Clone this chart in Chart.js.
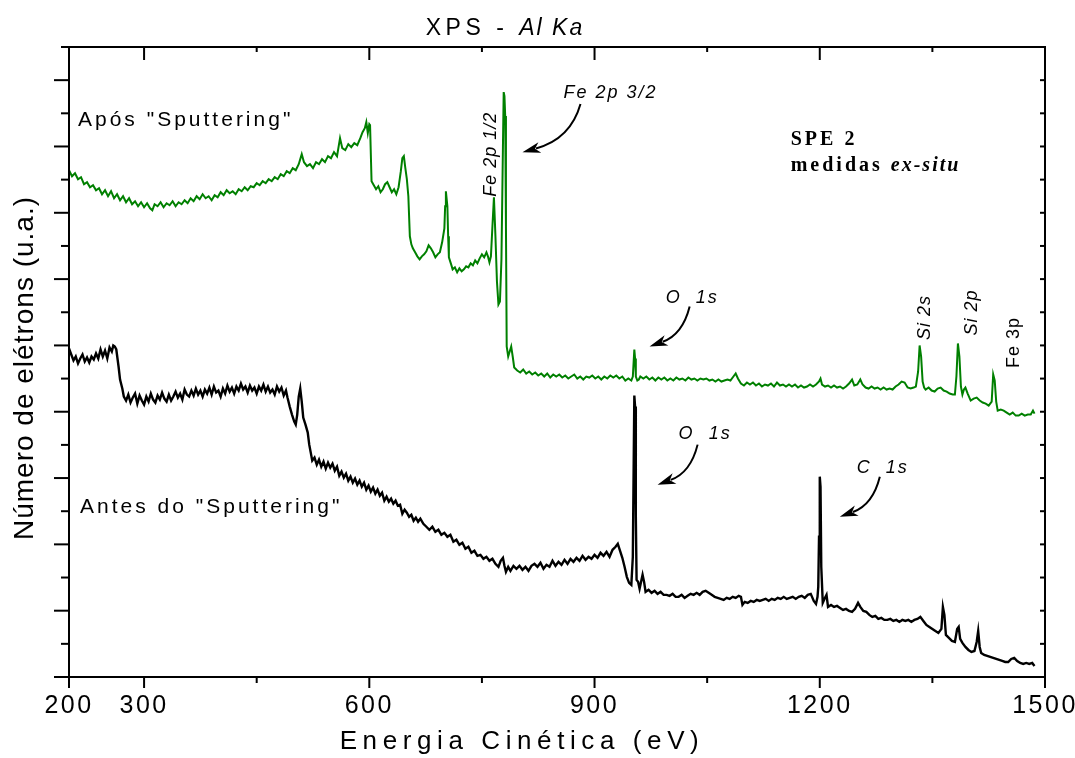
<!DOCTYPE html>
<html lang="pt">
<head>
<meta charset="utf-8">
<title>XPS - Al Ka</title>
<script src="https://cdn.jsdelivr.net/npm/chart.js@4/dist/chart.umd.min.js"></script>
<style>
  html, body { margin: 0; background: #fff; }
  canvas { display: block; }
</style>
</head>
<body>
<canvas id="espectro" width="1075" height="758"></canvas>
<script>
// espectro após o sputtering: [energia cinética (eV), intensidade (u.a.)]
const aposSputtering = [
  [200,506],[204,500],[208,503],[212,497],[216,499],[220,492],[224,494],[228,489],[232,491],[236,486],
  [240,488],[244,482],[248,486],[252,480],[256,485],[260,478],[264,482],[268,476],[272,480],[276,474],
  [280,478],[284,472],[288,475],[292,470],[296,474],[300,469],[304,473],[308,468],[311,466],[314,472],
  [318,470],[322,474],[326,469],[330,473],[334,471],[338,475],[342,470],[346,474],[350,472],[354,476],
  [358,473],[362,478],[366,475],[370,480],[374,477],[378,482],[382,478],[386,480],[390,476],[394,481],
  [398,479],[402,484],[406,481],[410,486],[414,483],[418,485],[422,482],[426,487],[430,485],[434,489],
  [438,486],[442,490],[446,489],[450,493],[454,491],[458,495],[462,493],[466,497],[470,495],[474,499],
  [478,497],[482,502],[486,500],[490,505],[494,503],[498,508],[502,506],[506,512],[510,522],[513,514],
  [517,510],[521,512],[525,508],[529,514],[533,512],[537,517],[541,514],[545,520],[549,518],[553,524],
  [557,520],[561,538],[564,528],[568,526],[572,532],[576,529],[580,533],[584,531],[588,538],[591,544],
  [594,548],[596,554],[598,543],[600,552],[601,551],[603,495],[606,491],[609,487],[612,490],[615,484],
  [618,487],[621,492],[624,494],[627,489],[630,484],[633,487],[636,482],[639,489],[642,505],[644,518],
  [646,520],[648,508],[650,497],[652,480],[654,440],[656,432],[658,428],[661,424],[664,420],[667,417],
  [670,420],[673,422],[676,425],[679,431],[682,428],[685,424],[688,419],[691,422],[694,424],[697,434],
  [700,448],[701,470],[702,485],[704,470],[705,440],[706,419],[709,412],[711,407],[714,409],[717,404],
  [720,408],[723,405],[726,407],[729,410],[732,409],[735,413],[738,411],[741,416],[744,413],[747,418],
  [750,422],[753,419],[756,424],[758,420],[760,414],[762,420],[764,450],[766,479],[768,440],[770,395],
  [772,372],[774,375],[776,417],[778,530],[779,584],[780,580],[781,560],[782,450],[783,330],[785,320],
  [787,325],[789,330],[791,320],[793,309],[797,306],[801,304],[805,307],[809,303],[813,305],[817,302],
  [821,304],[825,301],[829,303],[833,300],[837,303],[841,299],[845,302],[849,300],[853,302],[857,299],
  [861,301],[865,298],[869,300],[873,302],[877,298],[881,300],[885,297],[889,300],[893,299],[897,301],
  [901,298],[905,300],[909,297],[913,300],[917,298],[921,301],[925,299],[929,301],[933,298],[937,300],
  [941,296],[945,298],[949,296],[951,300],[953,327],[954,318],[955,300],[957,296],[959,297],[961,300],
  [965,298],[969,300],[973,297],[977,299],[981,296],[985,299],[989,297],[993,299],[997,296],[1001,298],
  [1005,296],[1009,299],[1013,297],[1017,298],[1021,296],[1025,299],[1029,297],[1033,298],[1037,296],
  [1041,298],[1045,297],[1049,298],[1053,296],[1057,297],[1061,295],[1065,297],[1069,295],[1073,296],
  [1077,297],[1081,296],[1085,300],[1088,303],[1091,298],[1095,293],[1099,291],[1103,294],[1107,292],
  [1111,294],[1115,291],[1119,293],[1123,290],[1127,292],[1131,291],[1135,293],[1139,290],[1143,294],
  [1147,291],[1151,292],[1155,290],[1159,292],[1163,290],[1167,292],[1171,289],[1175,291],[1179,289],
  [1183,290],[1187,292],[1191,290],[1195,292],[1199,295],[1201,298],[1203,292],[1207,290],[1211,291],
  [1215,289],[1219,291],[1223,289],[1227,290],[1231,288],[1235,290],[1239,293],[1243,297],[1246,291],
  [1250,292],[1254,297],[1257,292],[1261,289],[1265,288],[1269,290],[1273,288],[1277,289],[1281,287],
  [1285,289],[1289,287],[1293,288],[1297,287],[1301,290],[1305,292],[1309,295],[1313,294],[1317,289],
  [1321,288],[1325,289],[1328,290],[1331,305],[1333,331],[1335,320],[1337,295],[1339,289],[1341,287],
  [1345,289],[1349,286],[1353,285],[1357,288],[1361,289],[1365,286],[1369,285],[1373,283],[1377,282],
  [1380,282],[1382,300],[1384,333],[1386,320],[1388,290],[1390,282],[1392,287],[1394,289],[1397,283],
  [1401,276],[1405,278],[1409,279],[1413,276],[1417,274],[1421,273],[1425,271],[1429,275],[1431,302],
  [1433,296],[1435,275],[1437,266],[1441,267],[1445,266],[1449,264],[1453,262],[1457,264],[1461,261],
  [1465,261],[1469,263],[1473,261],[1477,262],[1481,262],[1484,266],[1486,263]
];

// espectro antes do sputtering
const antesSputtering = [
  [200,328],[203,322],[206,316],[209,320],[212,313],[215,318],[218,322],[221,315],[224,319],[227,314],
  [230,320],[233,317],[236,323],[239,318],[242,327],[245,320],[248,326],[251,318],[254,329],[257,325],
  [259,331],[261,330],[263,327],[266,310],[268,297],[271,288],[273,280],[276,276],[279,282],[282,274],
  [285,279],[288,283],[291,273],[294,281],[297,276],[300,272],[303,280],[306,275],[309,283],[312,277],
  [315,274],[318,281],[321,277],[324,284],[327,278],[330,275],[333,282],[336,276],[339,280],[342,285],
  [345,279],[348,283],[351,277],[354,287],[357,282],[360,280],[363,286],[366,281],[369,288],[372,282],
  [375,286],[378,280],[381,287],[384,283],[387,289],[390,282],[393,290],[396,284],[399,286],[402,280],
  [405,288],[408,283],[411,291],[414,285],[417,289],[420,283],[423,290],[426,286],[429,293],[432,287],
  [435,290],[438,284],[441,291],[444,286],[447,289],[450,283],[453,290],[456,286],[459,292],[462,285],
  [465,290],[468,284],[471,287],[474,282],[477,290],[480,285],[483,289],[486,281],[489,286],[491,279],
  [494,270],[497,262],[500,255],[502,252],[504,262],[506,280],[508,288],[510,275],[512,259],[515,252],
  [518,244],[520,232],[522,224],[524,216],[527,219],[530,212],[533,217],[536,210],[539,215],[542,208],
  [545,214],[548,209],[551,213],[554,206],[557,210],[560,201],[563,205],[566,199],[569,203],[572,196],
  [575,200],[578,194],[581,198],[584,192],[587,196],[590,190],[593,194],[596,187],[599,191],[602,185],
  [605,189],[608,183],[611,187],[614,181],[617,184],[620,176],[623,180],[626,175],[629,178],[632,173],
  [635,176],[638,171],[641,172],[644,163],[647,167],[650,164],[653,160],[656,162],[659,156],[662,159],
  [665,155],[668,158],[672,153],[676,150],[680,147],[684,150],[688,145],[692,147],[696,142],[700,144],
  [704,140],[708,142],[712,135],[716,137],[720,132],[724,134],[728,128],[732,130],[736,124],[740,126],
  [744,121],[748,122],[752,118],[756,120],[760,116],[764,118],[768,113],[772,110],[775,116],[778,119],
  [780,111],[782,105],[785,110],[788,106],[792,111],[796,108],[800,111],[804,107],[808,110],[812,106],
  [816,111],[820,113],[824,110],[828,114],[832,108],[836,112],[840,110],[844,116],[848,111],[852,115],
  [856,112],[860,117],[864,113],[868,118],[872,115],[876,119],[880,116],[884,121],[888,117],[892,120],
  [896,118],[900,122],[904,119],[908,124],[912,121],[916,125],[920,120],[924,127],[928,130],[931,133],
  [934,126],[937,119],[940,110],[943,100],[946,94],[949,92],[951,120],[953,281],[954,270],[955,160],
  [956,97],[958,95],[960,88],[962,95],[964,102],[966,95],[968,85],[972,87],[976,84],[980,86],
  [984,83],[988,85],[992,82],[996,82],[1000,81],[1004,83],[1008,80],[1012,80],[1016,82],[1020,79],
  [1024,81],[1028,83],[1032,82],[1036,84],[1040,82],[1044,85],[1048,86],[1052,84],[1056,82],[1060,80],
  [1064,79],[1068,78],[1072,77],[1076,79],[1080,78],[1084,80],[1088,79],[1092,81],[1095,80],[1097,72],
  [1100,75],[1104,74],[1108,76],[1112,75],[1116,77],[1120,76],[1124,77],[1128,78],[1132,76],[1136,78],
  [1140,77],[1144,79],[1148,78],[1152,80],[1156,78],[1160,79],[1164,80],[1168,78],[1172,80],[1176,81],
  [1180,79],[1184,82],[1188,83],[1192,76],[1195,73],[1197,80],[1198,90],[1199,140],[1200,200],[1201,190],
  [1202,110],[1204,74],[1207,79],[1209,82],[1211,70],[1215,72],[1219,70],[1223,71],[1227,69],[1231,67],
  [1235,68],[1239,66],[1243,65],[1247,68],[1251,74],[1254,70],[1258,66],[1262,65],[1266,62],[1270,60],
  [1274,61],[1278,58],[1282,59],[1286,57],[1290,57],[1294,58],[1298,56],[1302,57],[1306,55],[1310,57],
  [1314,56],[1318,57],[1322,55],[1326,57],[1330,58],[1334,60],[1338,56],[1342,52],[1346,50],[1350,48],
  [1354,46],[1358,44],[1362,48],[1364,70],[1366,62],[1368,42],[1372,39],[1376,36],[1380,35],[1383,48],
  [1385,50],[1387,38],[1390,34],[1394,30],[1398,27],[1402,25],[1406,26],[1409,35],[1411,46],[1413,30],
  [1415,24],[1419,22],[1423,21],[1427,20],[1431,19],[1435,18],[1439,17],[1443,16],[1447,15],[1451,15],
  [1455,18],[1459,19],[1463,16],[1467,14],[1471,13],[1475,14],[1479,13],[1483,14],[1486,11]
];

// eixo de energia: posições dos traços e quais levam número
const ticksEnergia = [200, 300, 450, 600, 750, 900, 1050, 1200, 1350, 1500];
const rotulosEnergia = [200, 300, 600, 900, 1200, 1500];
const intensidadeMax = 629;
const divisoesIntensidade = 19;

// identificação dos picos: [texto, energia, intensidade, estilo]
const picos = [
  ['Fe 2p 1/2', 762.7, 522, 'vertical-italico'],
  ['Si 2s', 1340, 359, 'vertical-italico'],
  ['Si 2p', 1402.7, 364, 'vertical-italico'],
  ['Fe 3p', 1458.7, 334, 'vertical']
];
// rótulos das setas: [texto, energia à esquerda, intensidade da linha de base]
const rotulosSeta = [
  ['Fe 2p 3/2', 858.7, 578],
  ['O  1s', 994.7, 373],
  ['O  1s', 1012, 238],
  ['C  1s', 1249.3, 204]
];
// setas: início, ponto de controle, ponta
const setas = [
  [[881.3, 572], [868, 537], [804, 524]],
  [[1026.7, 370], [1017.3, 342], [973.3, 330]],
  [[1037.3, 232], [1028, 204], [984, 192]],
  [[1280, 200], [1270.7, 172], [1226.7, 160]]
];

const SANS = '"Liberation Sans", Arial, sans-serif';
const SERIF = '"Liberation Serif", "Times New Roman", serif';

function linha(ctx, x1, y1, x2, y2) {
  ctx.beginPath();
  ctx.moveTo(x1, y1);
  ctx.lineTo(x2, y2);
  ctx.stroke();
}

function textoMisto(ctx, partes, x, y) {
  let cx = x;
  partes.forEach(([t, fonte, esp]) => {
    ctx.font = fonte;
    ctx.letterSpacing = esp + 'px';
    ctx.fillText(t, cx, y);
    cx += ctx.measureText(t).width;
  });
}

function larguraMista(ctx, partes) {
  let w = 0;
  partes.forEach(([t, fonte, esp]) => {
    ctx.font = fonte;
    ctx.letterSpacing = esp + 'px';
    w += ctx.measureText(t).width;
  });
  return w;
}

const molduraPlugin = {
  id: 'moldura',
  beforeDraw(chart) {
    chart.ctx.letterSpacing = '2.5px';
  },
  afterDraw(chart) {
    const { ctx, chartArea: a, scales: { x, y } } = chart;
    ctx.save();
    ctx.strokeStyle = '#000';
    ctx.fillStyle = '#000';
    ctx.lineWidth = 2;
    ctx.strokeRect(a.left, a.top, a.right - a.left, a.bottom - a.top);

    // traços do eixo de energia (embaixo para fora, em cima para dentro)
    ticksEnergia.forEach(v => {
      const px = x.getPixelForValue(v);
      const longo = rotulosEnergia.includes(v);
      linha(ctx, px, a.bottom, px, a.bottom + (longo ? 11 : 6));
      if (v > 200 && v < 1500) linha(ctx, px, a.top, px, a.top + (longo ? 13 : 5));
    });

    // traços de intensidade
    for (let k = 0; k <= divisoesIntensidade; k++) {
      const py = y.getPixelForValue(k * intensidadeMax / divisoesIntensidade);
      const longo = k % 2 === 0;
      linha(ctx, a.left - (longo ? 15 : 8), py, a.left, py);
      if (k > 0 && k < divisoesIntensidade) linha(ctx, a.right - 5, py, a.right, py);
    }

    // título
    const titulo = [
      ['XPS - ', '23px ' + SANS, 4.5],
      ['Al Ka', 'italic 23px ' + SANS, 2]
    ];
    ctx.textBaseline = 'alphabetic';
    ctx.textAlign = 'left';
    textoMisto(ctx, titulo, 505 - larguraMista(ctx, titulo) / 2, 35);

    // títulos dos eixos
    ctx.textAlign = 'center';
    ctx.textBaseline = 'middle';
    ctx.font = '26px ' + SANS;
    ctx.letterSpacing = '5.6px';
    ctx.fillText('Energia Cinética (eV)', 522, 742);
    ctx.save();
    ctx.translate(25, 368);
    ctx.rotate(-Math.PI / 2);
    ctx.font = '28px ' + SANS;
    ctx.letterSpacing = '1px';
    ctx.fillText('Número de elétrons (u.a.)', 0, 0);
    ctx.restore();

    // nomes das curvas
    ctx.textAlign = 'left';
    ctx.textBaseline = 'alphabetic';
    ctx.font = '21px ' + SANS;
    ctx.letterSpacing = '3px';
    ctx.fillText('Após "Sputtering"', x.getPixelForValue(212), y.getPixelForValue(550));
    ctx.fillText('Antes do "Sputtering"', x.getPixelForValue(214.7), y.getPixelForValue(164));

    // amostra
    textoMisto(ctx, [['SPE 2', 'bold 20px ' + SERIF, 3]], x.getPixelForValue(1161.3), y.getPixelForValue(531));
    textoMisto(ctx, [
      ['medidas ', 'bold 20px ' + SERIF, 3],
      ['ex-situ', 'bold italic 20px ' + SERIF, 2]
    ], x.getPixelForValue(1161.3), y.getPixelForValue(505));

    // picos com texto vertical
    picos.forEach(([t, ev, i, estilo]) => {
      ctx.save();
      ctx.translate(x.getPixelForValue(ev), y.getPixelForValue(i));
      ctx.rotate(-Math.PI / 2);
      ctx.textAlign = 'center';
      ctx.textBaseline = 'middle';
      ctx.font = (estilo === 'vertical-italico' ? 'italic ' : '') + '18px ' + SANS;
      ctx.letterSpacing = '1px';
      ctx.fillText(t, 0, 0);
      ctx.restore();
    });

    // picos indicados por seta
    ctx.font = 'italic 18px ' + SANS;
    ctx.letterSpacing = '2px';
    ctx.textAlign = 'left';
    rotulosSeta.forEach(([t, ev, i]) => {
      ctx.fillText(t, x.getPixelForValue(ev), y.getPixelForValue(i));
    });

    ctx.lineWidth = 2;
    setas.forEach(([ini, ctrl, fim]) => {
      const p0 = [x.getPixelForValue(ini[0]), y.getPixelForValue(ini[1])];
      const p1 = [x.getPixelForValue(ctrl[0]), y.getPixelForValue(ctrl[1])];
      const p2 = [x.getPixelForValue(fim[0]), y.getPixelForValue(fim[1])];
      const ang = Math.atan2(p2[1] - p1[1], p2[0] - p1[0]);
      const c = Math.cos(ang), s = Math.sin(ang);
      const L = 18, W = 5.5;
      const base = [p2[0] - L * c, p2[1] - L * s];
      ctx.beginPath();
      ctx.moveTo(p0[0], p0[1]);
      ctx.quadraticCurveTo(p1[0], p1[1], base[0] + 4 * c, base[1] + 4 * s);
      ctx.stroke();
      ctx.beginPath();
      ctx.moveTo(p2[0], p2[1]);
      ctx.lineTo(base[0] + W * s, base[1] - W * c);
      ctx.lineTo(base[0] + 5 * c, base[1] + 5 * s);
      ctx.lineTo(base[0] - W * s, base[1] + W * c);
      ctx.closePath();
      ctx.fill();
    });
    ctx.restore();
  }
};

const ctx = document.getElementById('espectro');

new Chart(ctx, {
  type: 'line',
  data: {
    datasets: [{
      label: 'Após "Sputtering"',
      data: aposSputtering.map(([e, i]) => ({ x: e, y: i })),
      borderColor: '#008000',
      borderWidth: 2,
      pointRadius: 0,
      tension: 0
    }, {
      label: 'Antes do "Sputtering"',
      data: antesSputtering.map(([e, i]) => ({ x: e, y: i })),
      borderColor: '#000000',
      borderWidth: 2.4,
      pointRadius: 0,
      tension: 0
    }]
  },
  options: {
    responsive: false,
    animation: false,
    devicePixelRatio: 1,
    layout: { padding: { top: 47, right: 30, left: 0, bottom: 0 } },
    plugins: {
      legend: { display: false },
      tooltip: { enabled: false }
    },
    scales: {
      x: {
        type: 'linear',
        min: 200,
        max: 1500,
        grid: { display: false, drawTicks: false },
        border: { display: false },
        afterBuildTicks: scale => {
          scale.ticks = rotulosEnergia.map(v => ({ value: v }));
        },
        afterFit: scale => {
          scale.height = 81;
          scale.paddingLeft = 0;
          scale.paddingRight = 0;
        },
        ticks: {
          autoSkip: false,
          maxRotation: 0,
          padding: 14,
          color: '#000',
          font: { family: SANS, size: 25 },
          callback: v => String(v)
        }
      },
      y: {
        min: 0,
        max: intensidadeMax,
        grid: { display: false, drawTicks: false },
        border: { display: false },
        ticks: { display: false },
        afterFit: scale => { scale.width = 69; }
      }
    }
  },
  plugins: [molduraPlugin]
});
</script>
</body>
</html>
